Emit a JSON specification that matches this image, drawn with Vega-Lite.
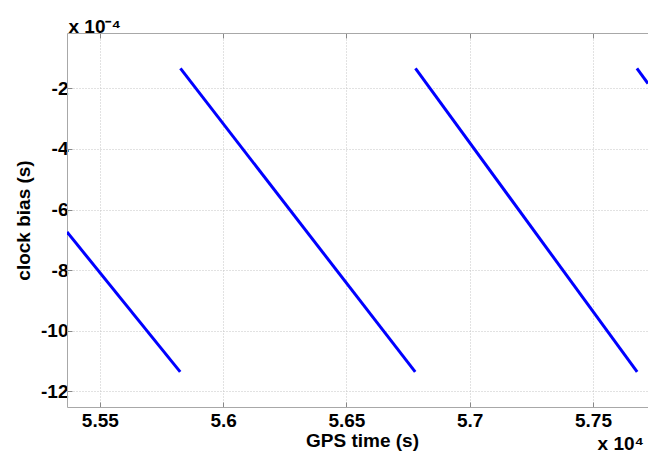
{
  "$schema": "https://vega.github.io/schema/vega-lite/v6.json",
  "width": 581,
  "height": 374,
  "autosize": "none",
  "padding": {"left": 67, "top": 33, "right": 0, "bottom": 50},
  "background": "white",
  "config": {
    "view": {"stroke": null},
    "font": "Liberation Sans",
    "axis": {
      "domainColor": "#a8a8a8",
      "domainWidth": 1,
      "tickColor": "#888888",
      "tickSize": -5,
      "gridColor": "#c4c4c4",
      "gridDash": [1, 2],
      "gridWidth": 1,
      "labelFont": "Liberation Sans",
      "labelFontSize": 19,
      "labelFontWeight": "bold",
      "labelColor": "black",
      "titleFont": "Liberation Sans",
      "titleFontSize": 19,
      "titleFontWeight": "bold",
      "titleColor": "black"
    }
  },
  "title": {
    "text": "x 10⁴",
    "orient": "bottom",
    "anchor": "end",
    "offset": -15,
    "dx": -4,
    "font": "Liberation Sans",
    "fontSize": 19,
    "fontWeight": "bold",
    "color": "black"
  },
  "data": {
    "values": [
      {"seg": 1, "t": 5.5367, "bias": -6.74},
      {"seg": 1, "t": 5.5826, "bias": -11.36},
      {"seg": 2, "t": 5.5827, "bias": -1.34},
      {"seg": 2, "t": 5.6779, "bias": -11.36},
      {"seg": 3, "t": 5.678, "bias": -1.34},
      {"seg": 3, "t": 5.7679, "bias": -11.36},
      {"seg": 4, "t": 5.7678, "bias": -1.34},
      {"seg": 4, "t": 5.7723, "bias": -1.84}
    ]
  },
  "layer": [
    {
      "mark": {"type": "line", "color": "#0000ff", "strokeWidth": 3, "clip": true},
      "encoding": {
        "x": {
          "field": "t",
          "type": "quantitative",
          "scale": {"domain": [5.5367, 5.7723], "nice": false, "zero": false},
          "axis": {
            "values": [5.55, 5.6, 5.65, 5.7, 5.75],
            "labelExpr": "datum.value + ''",
            "labelPadding": 9,
            "title": "GPS time (s)",
            "titleX": 295,
            "titlePadding": 1,
            "grid": true
          }
        },
        "y": {
          "field": "bias",
          "type": "quantitative",
          "scale": {"domain": [-12.52, -0.17], "nice": false, "zero": false},
          "axis": {
            "values": [-2, -4, -6, -8, -10, -12],
            "labelExpr": "datum.value + ''",
            "labelPadding": 4,
            "title": "clock bias (s)",
            "titlePadding": 7,
            "grid": true
          }
        },
        "detail": {"field": "seg", "type": "nominal"}
      }
    },
    {
      "mark": {"type": "line", "strokeOpacity": 0, "clip": true},
      "encoding": {
        "x": {
          "field": "t",
          "type": "quantitative",
          "axis": {
            "orient": "top",
            "values": [5.55, 5.6, 5.65, 5.7, 5.75],
            "labels": false,
            "grid": false,
            "title": "x 10⁻⁴",
            "titleX": 1,
            "titleY": -1,
            "titleAlign": "left",
            "titleAnchor": "start",
            "titleBaseline": "alphabetic"
          }
        },
        "y": {"field": "bias", "type": "quantitative"},
        "detail": {"field": "seg", "type": "nominal"}
      }
    }
  ],
  "resolve": {"axis": {"x": "independent"}}
}
